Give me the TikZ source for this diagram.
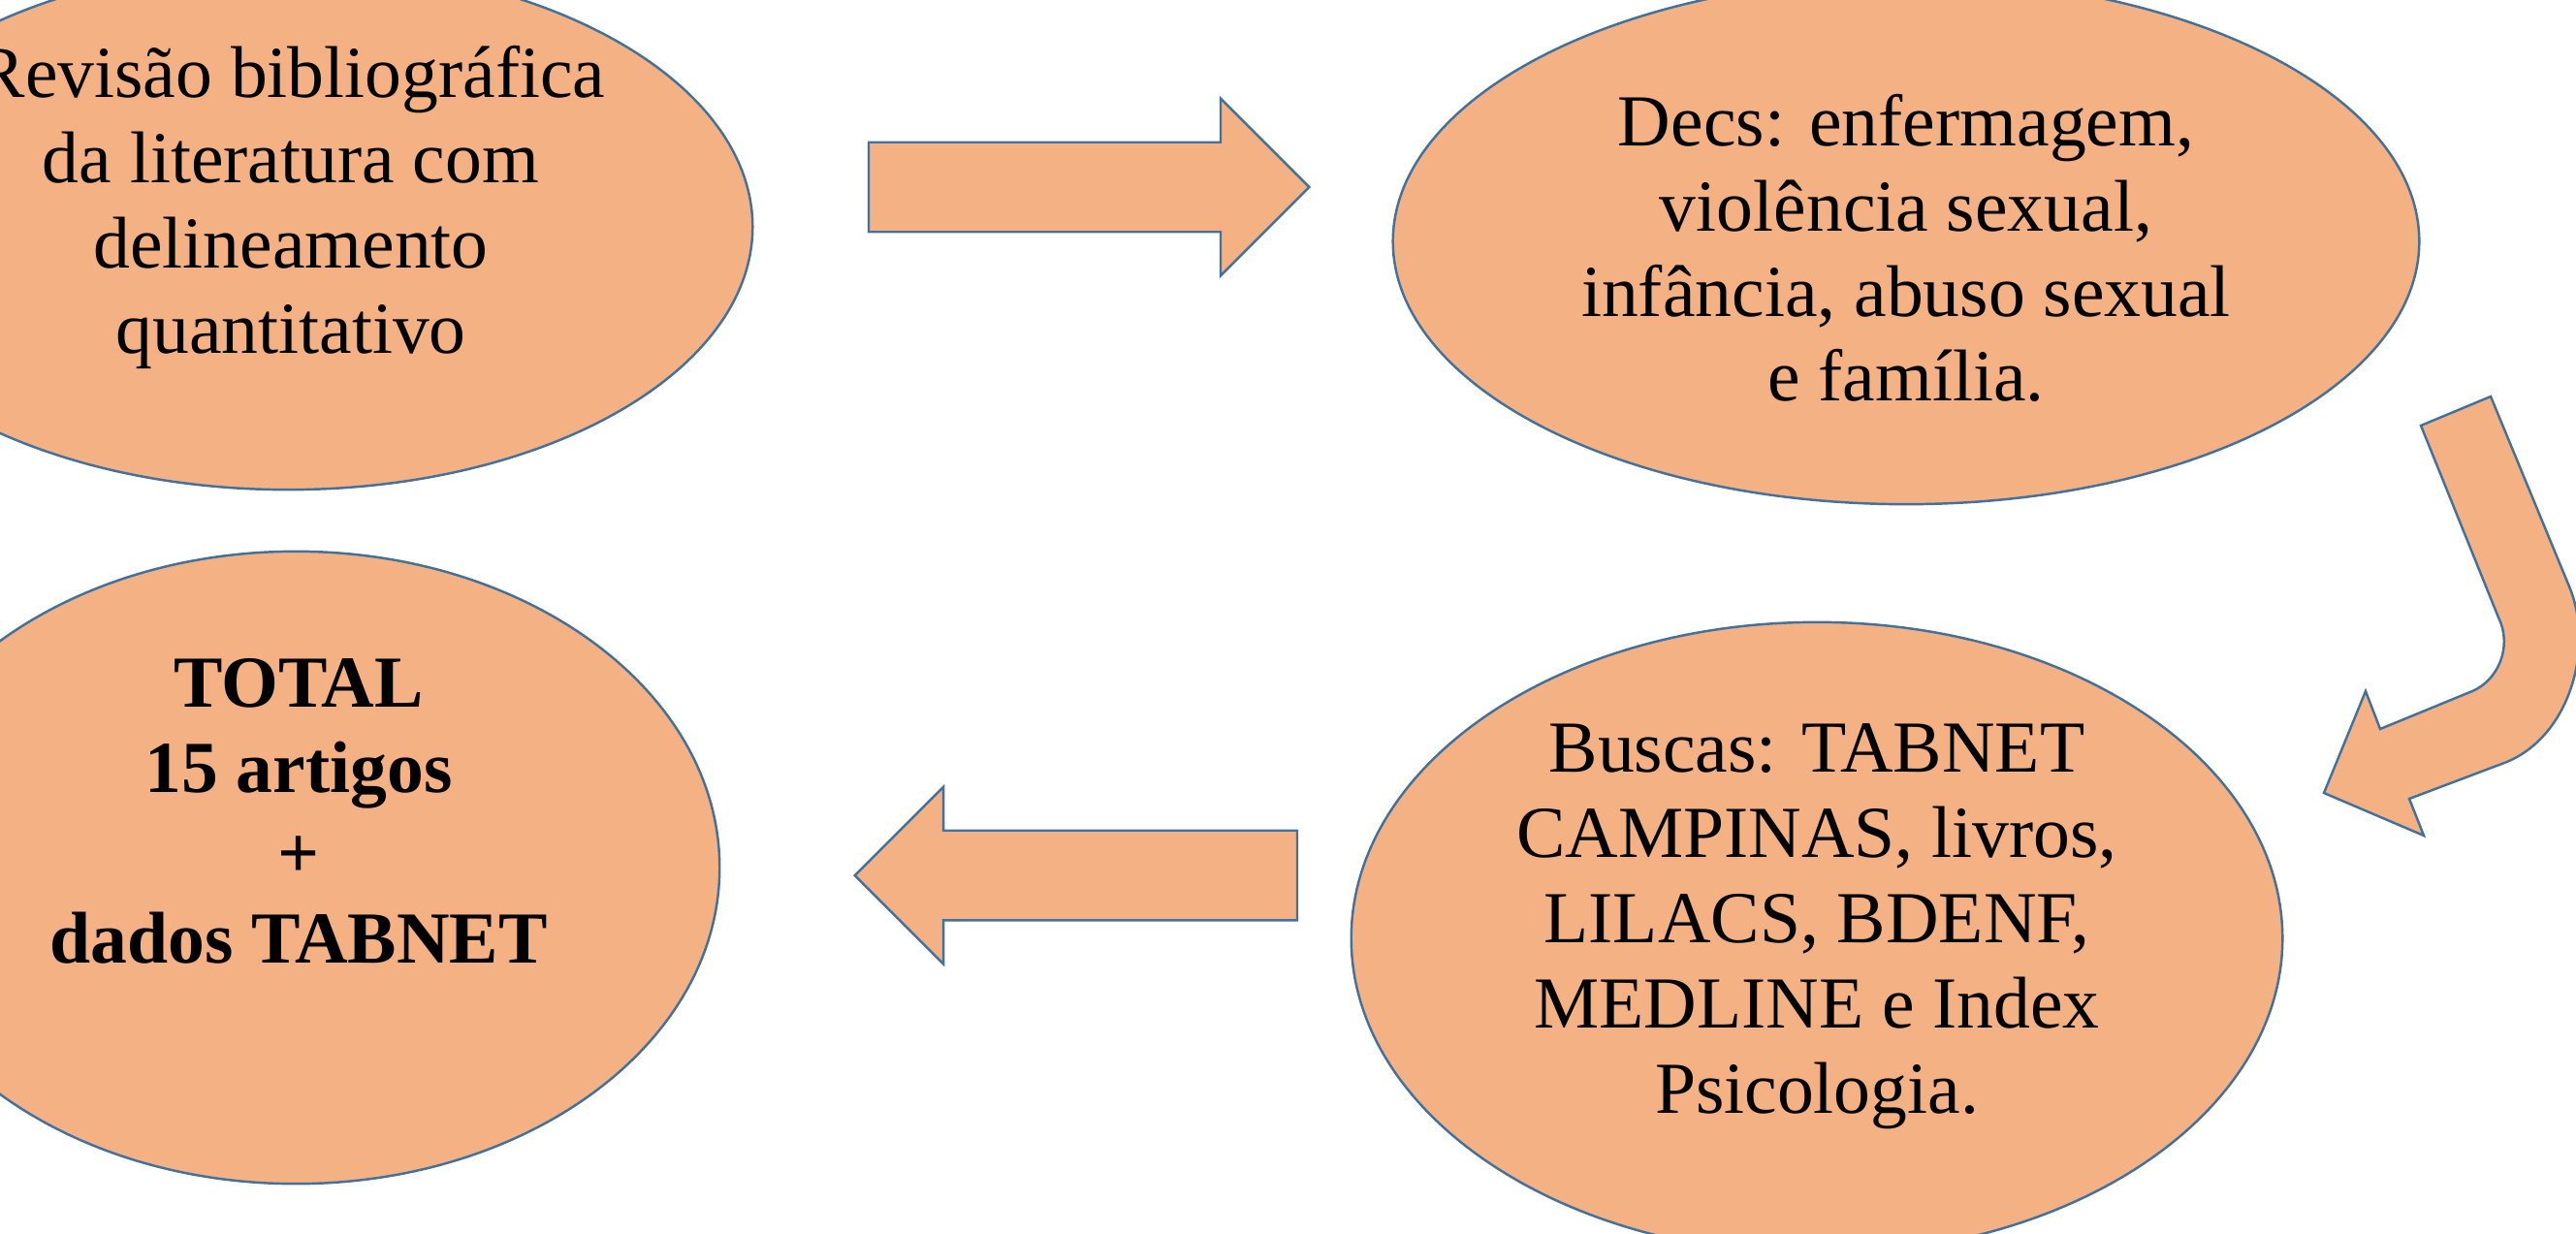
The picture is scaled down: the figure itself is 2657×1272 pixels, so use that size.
\documentclass[tikz,border=0pt]{standalone}
\usepackage{fontspec}
\setmainfont{Liberation Serif}
\usetikzlibrary{shapes,arrows,positioning}
\definecolor{laranja}{HTML}{F4B183}
\definecolor{contorno}{HTML}{41719C}
\tikzstyle{bolha} = [ellipse, draw=contorno, fill=laranja, line width=0.7pt]
\tikzstyle{texto} = [align=center, font=\fontsize{21.5}{25}\selectfont]
\tikzstyle{seta} = [single arrow, draw=contorno, fill=laranja, line width=0.7pt, inner xsep=0pt, inner ysep=0.45cm, single arrow head extend=0.45cm, single arrow tip angle=90]
\begin{document}
\begin{tikzpicture}[x=0.01cm,y=-0.01cm]
\useasboundingbox (0,0) rectangle (2657,1272);
\clip (0,0) rectangle (2657,1272);
% bolhas
\node[bolha, minimum width=9.58cm, minimum height=5.42cm] (revisao) at (297,234) {};
\node[bolha, minimum width=10.58cm, minimum height=5.42cm] (decs) at (1966,249) {};
\node[bolha, minimum width=8.74cm, minimum height=6.52cm] (total) at (305,895) {};
\node[bolha, minimum width=9.6cm, minimum height=6.52cm] (buscas) at (1874,968) {};
% textos
\node[texto] (trevisao) at (300,214) {Revisão bibliográfica\\da literatura com\\delineamento\\quantitativo};
\node[texto] (tdecs) at (1966,256) {Decs: enfermagem,\\violência sexual,\\infância, abuso sexual\\e família.};
\node[texto, font=\fontsize{21.5}{25}\selectfont\bfseries] (ttotal) at (308,837) {TOTAL\\15 artigos\\+\\dados TABNET};
\node[texto] (tbuscas) at (1874,956) {Buscas: TABNET\\CAMPINAS, livros,\\LILACS, BDENF,\\MEDLINE e Index\\Psicologia.};
% setas
\node[seta, minimum height=4.54cm] (seta1) at (1100,193) {};
\node[seta, minimum height=4.56cm, shape border rotate=180] (seta3) at (1133,903) {};
\draw[draw=contorno, fill=laranja, line width=0.7pt]
  (2569,409) -- (2650,605) .. controls (2677,670) and (2649,762) .. (2583,787)
  -- (2485,824) -- (2500,862) -- (2397,818) -- (2440,713) -- (2455,752) -- (2550,713)
  .. controls (2576,702) and (2592,668) .. (2577,637) -- (2497,439) -- cycle;
\end{tikzpicture}
\end{document}
